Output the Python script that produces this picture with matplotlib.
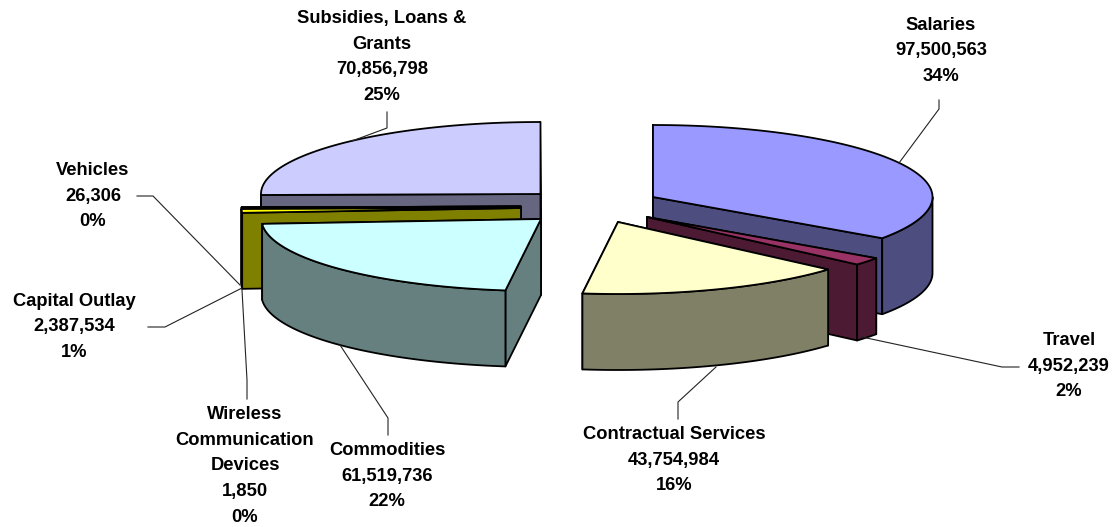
import numpy as np
import matplotlib
matplotlib.use("Agg")
import matplotlib.pyplot as plt

plt.rcParams['font.family'] = ['Liberation Sans', 'DejaVu Sans']

# slices, clockwise from twelve o'clock
names = ["Salaries", "Travel", "Contractual Services", "Commodities",
         "Wireless\nCommunication\nDevices", "Capital Outlay", "Vehicles",
         "Subsidies, Loans &\nGrants"]
values = [97500563, 4952239, 43754984, 61519736, 1850, 2387534, 26306, 70856798]
percents = [34, 2, 16, 22, 0, 1, 0, 25]

top_colors = ["#9999FF", "#993366", "#FFFFCC", "#CCFFFF", "#FF8080", "#FFFF00", "#000080", "#CCCCFF"]
side_colors = ["#4D4D80", "#4D1A33", "#808066", "#668080", "#804040", "#808000", "#000040", "#666680"]

# where each exploded slice has its point, in pixels
apex = [(653, 197), (647, 217), (618, 222), (541, 219), (521, 207), (521, 208), (521, 206.5), (540.5, 194)]

# label centre, then the leader line
label_pos = [(941, 51), (1069, 366), (674, 460), (387, 476), (245, 466), (74, 327), (93, 196), (382, 57)]
leaders = [
    [(899, 163), (939, 109), (939, 100)],
    [(862, 337), (1002, 367), (1019, 367)],
    [(716, 367), (678, 402), (678, 419)],
    [(340, 345), (388, 418), (388, 435)],
    [(242, 290), (247, 380), (247, 399)],
    [(242, 288), (165, 327), (148, 327)],
    [(240, 285), (153, 196), (137, 196)],
    [(352, 141), (387, 128), (387, 112)],
]

RX = 279.5
RY = 72
DEPTH = 76
# painter's order, back to front
draw_order = [7, 6, 4, 5, 3, 0, 1, 2]

edges = np.concatenate([[0], np.cumsum(values)]) / np.sum(values) * 360


def rim(t, c):
    t = np.radians(t)
    return c[0] + RX * np.sin(t), c[1] - RY * np.cos(t)


def draw_slice(ax, i):
    c = apex[i]
    t0, t1 = edges[i], edges[i + 1]
    kw = dict(edgecolor="black", linewidth=1.3, joinstyle="round")

    # the two straight walls, the one further back first
    for t in sorted([t0, t1], key=lambda a: rim(a, c)[1]):
        px, py = rim(t, c)
        ax.fill([c[0], px, px, c[0]], [c[1], py, py + DEPTH, c[1] + DEPTH],
                facecolor=side_colors[i], **kw)

    # outer wall, only the front half of the rim shows
    a, b = max(t0, 90), min(t1, 270)
    if b > a:
        ts = np.linspace(a, b, 80)
        xs, ys = rim(ts, c)
        ax.fill(np.r_[xs, xs[::-1]], np.r_[ys, ys[::-1] + DEPTH],
                facecolor=side_colors[i], **kw)

    ts = np.linspace(t0, t1, 160)
    xs, ys = rim(ts, c)
    ax.fill(np.r_[c[0], xs], np.r_[c[1], ys], facecolor=top_colors[i], **kw)


fig = plt.figure(figsize=(11.18, 5.27), dpi=100)
ax = fig.add_axes([0, 0, 1, 1])
ax.set_xlim(0, 1118)
ax.set_ylim(527, 0)
ax.axis("off")

for i in draw_order:
    draw_slice(ax, i)

for line in leaders:
    x, y = zip(*line)
    ax.plot(x, y, color="#222222", linewidth=0.8)

for i in range(len(names)):
    txt = f"{names[i]}\n{values[i]:,}\n{percents[i]}%"
    ax.text(label_pos[i][0], label_pos[i][1], txt, ha="center", va="center",
            fontsize=13.2, fontweight="bold", linespacing=1.66)

fig.savefig("out.png", dpi=100)
